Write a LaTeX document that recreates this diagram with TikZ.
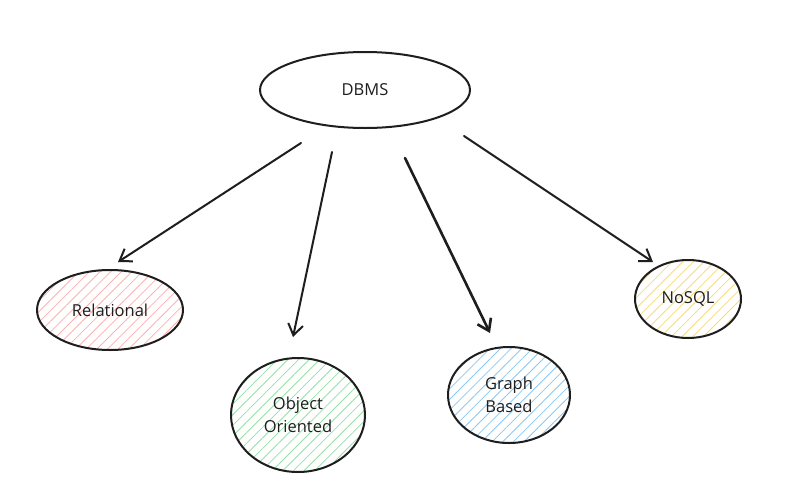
\documentclass[tikz,border=0pt]{standalone}
\usepackage{fontspec}
\setmainfont{Open Sans}
\usetikzlibrary{shapes.geometric, arrows.meta, patterns.meta}
\definecolor{inkgray}{HTML}{1E1E1E}
\definecolor{hatchred}{HTML}{FFB0B0}
\definecolor{hatchgreen}{HTML}{96E2A2}
\definecolor{hatchblue}{HTML}{8CC8F5}
\definecolor{hatchyellow}{HTML}{F5DC80}

\begin{document}
\begin{tikzpicture}[x=1pt, y=-1pt,
  sketch/.style={ellipse, draw=inkgray, line width=2pt, inner sep=0pt, align=center, text=inkgray, font=\fontsize{16.5}{23}\selectfont},
  hatch/.style={pattern={Lines[angle=45, distance=7.5pt, line width=0.8pt]}, pattern color=#1},
  link/.style={draw=inkgray, line width=2pt, line cap=round, -{Straight Barb[length=11pt, width=15pt]}}
]
  \useasboundingbox (0,0) rectangle (796,499);
  \fill[white] (0,0) rectangle (796,499);

  % top node and the four kinds
  \node[sketch, minimum width=210pt, minimum height=76pt] (dbms) at (365,90) {DBMS};
  \node[sketch, hatch=hatchred, minimum width=146pt, minimum height=80pt] (rel) at (110,310) {Relational};
  \node[sketch, hatch=hatchgreen, minimum width=134pt, minimum height=114pt] (obj) at (298,415) {Object\\Oriented};
  \node[sketch, hatch=hatchblue, minimum width=122pt, minimum height=96pt] (graph) at (509,395) {Graph\\Based};
  \node[sketch, hatch=hatchyellow, minimum width=106pt, minimum height=78pt] (nosql) at (688,299) {NoSQL};

  % arrow ends
  \coordinate (relFrom) at (301,143);
  \coordinate (relTo) at (118,262);
  \coordinate (objFrom) at (332,152);
  \coordinate (objTo) at (293,337);
  \coordinate (graphFrom) at (405,158);
  \coordinate (graphTo) at (490,333);
  \coordinate (nosqlFrom) at (464,136);
  \coordinate (nosqlTo) at (653,262);

  \draw[link] (relFrom) -- (relTo);
  \draw[link] (objFrom) -- (objTo);
  \draw[link, line width=2.6pt] (graphFrom) -- (graphTo);
  \draw[link] (nosqlFrom) -- (nosqlTo);
\end{tikzpicture}
\end{document}
